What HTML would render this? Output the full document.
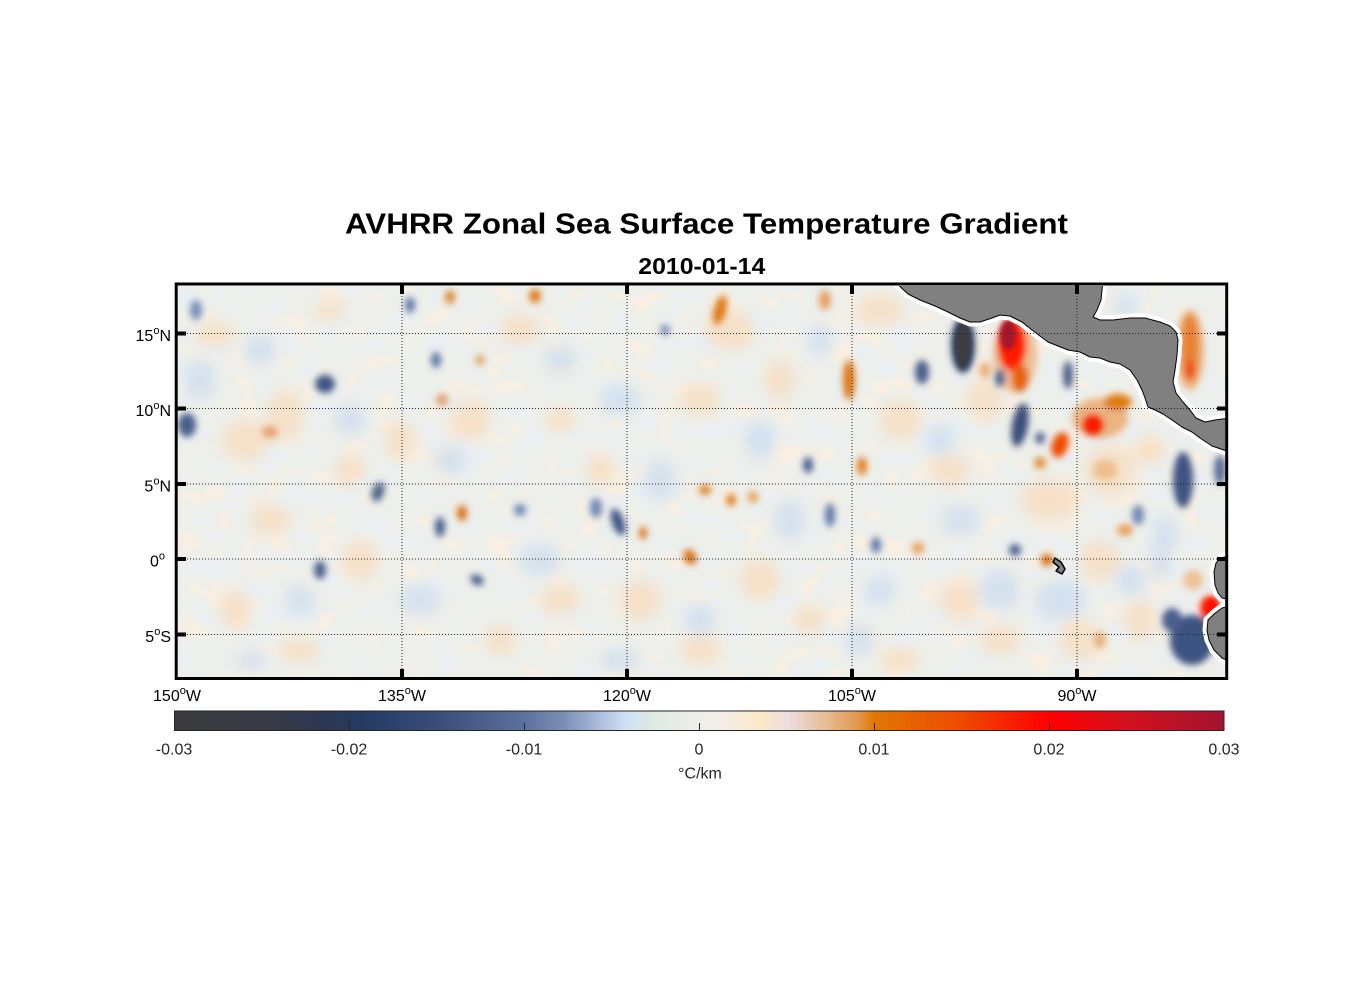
<!DOCTYPE html>
<html>
<head>
<meta charset="utf-8">
<style>
  html, body { margin:0; padding:0; background:#ffffff; }
  body { width:1356px; height:1000px; overflow:hidden; }
  svg { display:block; }
  text { font-family: "Liberation Sans", Arial, Helvetica, sans-serif; }
</style>
</head>
<body>
<svg width="1356" height="1000" viewBox="0 0 1356 1000" xmlns="http://www.w3.org/2000/svg">
  <defs>
    <clipPath id="mapclip"><rect x="177" y="286" width="1049" height="392"/></clipPath>
    <filter id="b6" filterUnits="userSpaceOnUse" x="0" y="0" width="1356" height="1000">
      <feGaussianBlur stdDeviation="7"/>
    </filter>
    <filter id="b3" filterUnits="userSpaceOnUse" x="0" y="0" width="1356" height="1000">
      <feGaussianBlur stdDeviation="3.5"/>
    </filter>
    <filter id="b2" filterUnits="userSpaceOnUse" x="0" y="0" width="1356" height="1000">
      <feGaussianBlur stdDeviation="2.5"/>
    </filter>
    <filter id="tpeach" filterUnits="userSpaceOnUse" x="170" y="280" width="1070" height="410">
      <feTurbulence type="fractalNoise" baseFrequency="0.035 0.045" numOctaves="2" seed="7" result="n"/>
      <feColorMatrix in="n" type="matrix" values="0 0 0 0 0.98  0 0 0 0 0.86  0 0 0 0 0.74  5 0 0 0 -2.75"/>
    </filter>
    <filter id="tblue" filterUnits="userSpaceOnUse" x="170" y="280" width="1070" height="410">
      <feTurbulence type="fractalNoise" baseFrequency="0.035 0.045" numOctaves="2" seed="7" result="n"/>
      <feColorMatrix in="n" type="matrix" values="0 0 0 0 0.80  0 0 0 0 0.86  0 0 0 0 0.94  -5 0 0 0 2.25"/>
    </filter>
    <linearGradient id="cbar" x1="0" y1="0" x2="1" y2="0">
      <stop offset="0" stop-color="#3b3b3d"/>
      <stop offset="0.08" stop-color="#373a44"/>
      <stop offset="0.14" stop-color="#2c3852"/>
      <stop offset="0.18" stop-color="#233a62"/>
      <stop offset="0.25" stop-color="#3a4d78"/>
      <stop offset="0.33" stop-color="#5a6f9a"/>
      <stop offset="0.37" stop-color="#7a8db4"/>
      <stop offset="0.40" stop-color="#a4b6d6"/>
      <stop offset="0.43" stop-color="#cfe0f6"/>
      <stop offset="0.46" stop-color="#dfebe4"/>
      <stop offset="0.50" stop-color="#eeeeec"/>
      <stop offset="0.53" stop-color="#f5ece0"/>
      <stop offset="0.56" stop-color="#fde8c8"/>
      <stop offset="0.585" stop-color="#eedde0"/>
      <stop offset="0.62" stop-color="#e6bd98"/>
      <stop offset="0.65" stop-color="#e29a50"/>
      <stop offset="0.667" stop-color="#e07800"/>
      <stop offset="0.75" stop-color="#ee4a00"/>
      <stop offset="0.833" stop-color="#ff0000"/>
      <stop offset="0.9" stop-color="#d80e1c"/>
      <stop offset="1" stop-color="#a01530"/>
    </linearGradient>
  </defs>

  <!-- Titles -->
  <text x="345" y="233.5" font-size="29" font-weight="bold" fill="#000" textLength="723" lengthAdjust="spacingAndGlyphs">AVHRR Zonal Sea Surface Temperature Gradient</text>
  <text x="638.3" y="274" font-size="23.5" font-weight="bold" fill="#000" textLength="127" lengthAdjust="spacingAndGlyphs">2010-01-14</text>

  <!-- Map -->
  <g clip-path="url(#mapclip)">
    <rect x="170" y="280" width="1070" height="410" fill="#edefeb"/>
    <rect x="170" y="280" width="1070" height="410" filter="url(#tpeach)" opacity="0.7"/>
    <rect x="170" y="280" width="1070" height="410" filter="url(#tblue)" opacity="0.6"/>

    <!-- faint mottling -->
    <g filter="url(#b6)" opacity="0.75">
      <g fill="#f9dcbc">
        <ellipse cx="245" cy="440" rx="25" ry="20"/>
        <ellipse cx="285" cy="415" rx="18" ry="25"/>
        <ellipse cx="215" cy="335" rx="20" ry="12"/>
        <ellipse cx="330" cy="310" rx="15" ry="10"/>
        <ellipse cx="270" cy="520" rx="20" ry="15"/>
        <ellipse cx="360" cy="560" rx="18" ry="20"/>
        <ellipse cx="235" cy="610" rx="15" ry="20"/>
        <ellipse cx="300" cy="650" rx="20" ry="12"/>
        <ellipse cx="400" cy="440" rx="15" ry="20"/>
        <ellipse cx="470" cy="420" rx="20" ry="20"/>
        <ellipse cx="520" cy="330" rx="20" ry="15"/>
        <ellipse cx="560" cy="420" rx="15" ry="12"/>
        <ellipse cx="560" cy="600" rx="20" ry="15"/>
        <ellipse cx="500" cy="640" rx="15" ry="15"/>
        <ellipse cx="640" cy="600" rx="20" ry="20"/>
        <ellipse cx="700" cy="400" rx="20" ry="15"/>
        <ellipse cx="730" cy="330" rx="25" ry="20"/>
        <ellipse cx="780" cy="380" rx="15" ry="20"/>
        <ellipse cx="760" cy="580" rx="20" ry="20"/>
        <ellipse cx="700" cy="650" rx="20" ry="15"/>
        <ellipse cx="810" cy="620" rx="15" ry="15"/>
        <ellipse cx="880" cy="310" rx="25" ry="15"/>
        <ellipse cx="900" cy="420" rx="20" ry="20"/>
        <ellipse cx="950" cy="470" rx="20" ry="15"/>
        <ellipse cx="960" cy="600" rx="20" ry="20"/>
        <ellipse cx="1050" cy="500" rx="30" ry="20"/>
        <ellipse cx="1100" cy="560" rx="20" ry="20"/>
        <ellipse cx="1080" cy="640" rx="20" ry="20"/>
        <ellipse cx="1140" cy="620" rx="15" ry="20"/>
        <ellipse cx="1150" cy="450" rx="15" ry="15"/>
        <ellipse cx="1000" cy="640" rx="20" ry="15"/>
        <ellipse cx="900" cy="660" rx="20" ry="12"/>
        <ellipse cx="600" cy="470" rx="15" ry="15"/>
        <ellipse cx="350" cy="470" rx="15" ry="15"/>
        <ellipse cx="985" cy="400" rx="18" ry="20"/>
        <ellipse cx="1110" cy="470" rx="25" ry="25"/>
      </g>
      <g fill="#cbdcf0">
        <ellipse cx="200" cy="380" rx="15" ry="20"/>
        <ellipse cx="260" cy="350" rx="15" ry="15"/>
        <ellipse cx="350" cy="420" rx="15" ry="15"/>
        <ellipse cx="300" cy="600" rx="15" ry="15"/>
        <ellipse cx="420" cy="600" rx="20" ry="15"/>
        <ellipse cx="450" cy="460" rx="15" ry="15"/>
        <ellipse cx="540" cy="560" rx="20" ry="15"/>
        <ellipse cx="560" cy="360" rx="15" ry="15"/>
        <ellipse cx="620" cy="400" rx="20" ry="15"/>
        <ellipse cx="660" cy="480" rx="15" ry="20"/>
        <ellipse cx="700" cy="620" rx="15" ry="15"/>
        <ellipse cx="760" cy="440" rx="15" ry="20"/>
        <ellipse cx="790" cy="520" rx="15" ry="20"/>
        <ellipse cx="820" cy="340" rx="12" ry="15"/>
        <ellipse cx="880" cy="590" rx="15" ry="15"/>
        <ellipse cx="940" cy="440" rx="15" ry="15"/>
        <ellipse cx="960" cy="520" rx="20" ry="15"/>
        <ellipse cx="1000" cy="590" rx="20" ry="20"/>
        <ellipse cx="1060" cy="600" rx="25" ry="20"/>
        <ellipse cx="1130" cy="580" rx="15" ry="15"/>
        <ellipse cx="1160" cy="560" rx="10" ry="20"/>
        <ellipse cx="250" cy="660" rx="15" ry="10"/>
        <ellipse cx="620" cy="660" rx="20" ry="10"/>
        <ellipse cx="860" cy="640" rx="15" ry="15"/>
        <ellipse cx="1125" cy="305" rx="12" ry="10"/>
        <ellipse cx="1165" cy="535" rx="12" ry="20"/>
      </g>
    </g>

    <!-- medium blobs -->
    <g filter="url(#b3)">
      <ellipse cx="1100" cy="418" rx="28" ry="20" fill="#eaa060" opacity="0.75"/>
      <ellipse cx="1190" cy="350" rx="14" ry="40" fill="#eaa060" opacity="0.8"/>
      <ellipse cx="1015" cy="355" rx="22" ry="38" fill="#eaa060" opacity="0.6"/>
      <ellipse cx="1105" cy="470" rx="12" ry="10" fill="#eab070" opacity="0.7"/>
      <ellipse cx="1193" cy="580" rx="10" ry="10" fill="#eab070" opacity="0.7"/>
      <ellipse cx="1100" cy="640" rx="6" ry="8" fill="#e4a060" opacity="0.8"/>
      <ellipse cx="1040" cy="463" rx="6" ry="6" fill="#e08828" opacity="0.9"/>
      <ellipse cx="985" cy="370" rx="6" ry="8" fill="#e6a060" opacity="0.8"/>

      <ellipse cx="1012" cy="345" rx="14" ry="26" fill="#ff1a00"/>
      <ellipse cx="1020" cy="378" rx="8" ry="14" fill="#e86010"/>
      <ellipse cx="1093" cy="425" rx="11" ry="11" fill="#f03000"/>
      <ellipse cx="1060" cy="445" rx="8" ry="13" fill="#ee4a00" transform="rotate(20 1060 445)"/>
      <ellipse cx="1118" cy="402" rx="14" ry="8" fill="#e07a10"/>
      <ellipse cx="1190" cy="345" rx="8" ry="30" fill="#e88030"/>
      <ellipse cx="1190" cy="370" rx="6" ry="10" fill="#ee5010"/>
      <ellipse cx="1210" cy="608" rx="10" ry="12" fill="#ff2000"/>
      <ellipse cx="1047" cy="560" rx="6" ry="6" fill="#dd7010"/>
      <ellipse cx="849" cy="380" rx="6" ry="20" fill="#dd7818"/>
      <ellipse cx="862" cy="466" rx="5" ry="9" fill="#e08020"/>
      <ellipse cx="720" cy="310" rx="6" ry="15" fill="#de7818" transform="rotate(15 720 310)"/>
      <ellipse cx="825" cy="300" rx="6" ry="10" fill="#e8a060"/>
      <ellipse cx="535" cy="296" rx="6" ry="7" fill="#e07a20"/>
      <ellipse cx="450" cy="297" rx="5" ry="7" fill="#e08a30"/>
      <ellipse cx="462" cy="513" rx="5" ry="8" fill="#d87018"/>
      <ellipse cx="643" cy="533" rx="4" ry="6" fill="#d87018"/>
      <ellipse cx="690" cy="557" rx="6" ry="8" fill="#d87018" transform="rotate(-30 690 557)"/>
      <ellipse cx="705" cy="490" rx="6" ry="5" fill="#e08020"/>
      <ellipse cx="731" cy="500" rx="5" ry="6" fill="#e08020"/>
      <ellipse cx="753" cy="497" rx="5" ry="6" fill="#e8a050"/>
      <ellipse cx="918" cy="548" rx="6" ry="6" fill="#e8a060"/>
      <ellipse cx="1125" cy="530" rx="8" ry="6" fill="#e8a060"/>
      <ellipse cx="480" cy="360" rx="5" ry="5" fill="#e0a060"/>
      <ellipse cx="442" cy="400" rx="6" ry="6" fill="#e0a070"/>
      <ellipse cx="270" cy="432" rx="8" ry="6" fill="#e6a070"/>

      <ellipse cx="963" cy="345" rx="12" ry="28" fill="#2e4068"/>
      <ellipse cx="1020" cy="425" rx="8" ry="22" fill="#3a4e7a" transform="rotate(10 1020 425)"/>
      <ellipse cx="1040" cy="438" rx="5" ry="6" fill="#50648e"/>
      <ellipse cx="922" cy="372" rx="7" ry="12" fill="#4a5f8c"/>
      <ellipse cx="1000" cy="378" rx="5" ry="9" fill="#50648e"/>
      <ellipse cx="1068" cy="375" rx="5" ry="14" fill="#4a5f8c"/>
      <ellipse cx="1183" cy="480" rx="10" ry="28" fill="#3d5282"/>
      <ellipse cx="1192" cy="640" rx="22" ry="25" fill="#3d5282"/>
      <ellipse cx="1172" cy="620" rx="10" ry="12" fill="#4a5f8c"/>
      <ellipse cx="1220" cy="470" rx="6" ry="15" fill="#5a6e98"/>
      <ellipse cx="1015" cy="550" rx="6" ry="6" fill="#4a5f8c"/>
      <ellipse cx="325" cy="384" rx="10" ry="9" fill="#3f5486"/>
      <ellipse cx="187" cy="425" rx="9" ry="12" fill="#4a5f8c"/>
      <ellipse cx="320" cy="570" rx="6" ry="9" fill="#4a5f8c"/>
      <ellipse cx="378" cy="492" rx="6" ry="10" fill="#50658e" transform="rotate(20 378 492)"/>
      <ellipse cx="440" cy="527" rx="5" ry="10" fill="#4a5f8c"/>
      <ellipse cx="477" cy="580" rx="7" ry="5" fill="#4a5f8c" transform="rotate(30 477 580)"/>
      <ellipse cx="618" cy="522" rx="6" ry="14" fill="#3f5486" transform="rotate(-20 618 522)"/>
      <ellipse cx="596" cy="508" rx="6" ry="10" fill="#7088b4"/>
      <ellipse cx="808" cy="465" rx="5" ry="8" fill="#4a5f8c"/>
      <ellipse cx="830" cy="515" rx="5" ry="12" fill="#6078a8"/>
      <ellipse cx="876" cy="545" rx="5" ry="8" fill="#6078a8"/>
      <ellipse cx="1138" cy="515" rx="6" ry="10" fill="#7088b0"/>
      <ellipse cx="196" cy="310" rx="6" ry="10" fill="#7a90b8"/>
      <ellipse cx="410" cy="305" rx="5" ry="8" fill="#6078a8"/>
      <ellipse cx="436" cy="360" rx="5" ry="8" fill="#6078a8"/>
      <ellipse cx="520" cy="510" rx="6" ry="6" fill="#7088b4"/>
      <ellipse cx="665" cy="330" rx="5" ry="5" fill="#7088b4"/>
    </g>

    <!-- sharp cores -->
    <g filter="url(#b2)">
      <ellipse cx="963" cy="345" rx="8" ry="23" fill="#3c3c40"/>
      <ellipse cx="1008" cy="335" rx="8" ry="15" fill="#a5162e"/>
      <ellipse cx="1093" cy="425" rx="6" ry="6" fill="#ff1500"/>
      <ellipse cx="1212" cy="606" rx="6" ry="7" fill="#ff1000"/>
    </g>

    <!-- Land -->
    <g stroke="#ffffff" stroke-width="9" stroke-linejoin="round" fill="#ffffff">
      <polygon points="898,280 1103,280 1101,300 1097,310 1093,317 1100,320 1113,320 1130,318 1145,318 1160,322 1170,326 1176,332 1178,340 1177,355 1175,370 1173,382 1176,393 1183,402 1190,410 1196,418 1205,422 1215,420 1230,418 1230,452 1218,448 1212,446 1206,442 1200,438 1192,432 1182,427 1172,420 1163,414 1155,410 1148,407 1145,398 1142,390 1137,380 1130,370 1120,364 1110,362 1100,358 1090,357 1080,352 1068,350 1058,346 1048,342 1040,336 1032,330 1022,322 1010,316 1000,315 992,318 980,322 970,322 960,318 948,312 935,306 920,300 908,294 893,280"/>
      <polygon points="1230,556 1220,558 1216,563 1214,572 1215,585 1218,593 1222,598 1230,600"/>
      <polygon points="1230,606 1222,608 1214,614 1208,620 1207,630 1209,640 1214,650 1222,658 1230,662"/>
    </g>
    <g stroke="#000000" stroke-width="1" stroke-linejoin="round" fill="#808080">
      <polygon points="898,280 1103,280 1101,300 1097,310 1093,317 1100,320 1113,320 1130,318 1145,318 1160,322 1170,326 1176,332 1178,340 1177,355 1175,370 1173,382 1176,393 1183,402 1190,410 1196,418 1205,422 1215,420 1230,418 1230,452 1218,448 1212,446 1206,442 1200,438 1192,432 1182,427 1172,420 1163,414 1155,410 1148,407 1145,398 1142,390 1137,380 1130,370 1120,364 1110,362 1100,358 1090,357 1080,352 1068,350 1058,346 1048,342 1040,336 1032,330 1022,322 1010,316 1000,315 992,318 980,322 970,322 960,318 948,312 935,306 920,300 908,294 893,280"/>
      <polygon points="1230,556 1220,558 1216,563 1214,572 1215,585 1218,593 1222,598 1230,600"/>
      <polygon points="1230,606 1222,608 1214,614 1208,620 1207,630 1209,640 1214,650 1222,658 1230,662"/>
      <polygon points="1055,558 1061,562 1065,569 1062,574 1056,571 1059,567 1053,562" stroke-width="1.5"/>
    </g>
  </g>

  <!-- Gridlines -->
  <g stroke="#222222" stroke-width="1" stroke-dasharray="1,2" fill="none">
    <line x1="178" y1="333.5" x2="1225" y2="333.5"/>
    <line x1="178" y1="408.5" x2="1225" y2="408.5"/>
    <line x1="178" y1="484" x2="1225" y2="484"/>
    <line x1="178" y1="559" x2="1225" y2="559"/>
    <line x1="178" y1="634.5" x2="1225" y2="634.5"/>
    <line x1="402" y1="287" x2="402" y2="677"/>
    <line x1="627" y1="287" x2="627" y2="677"/>
    <line x1="852" y1="287" x2="852" y2="677"/>
    <line x1="1077" y1="287" x2="1077" y2="677"/>
  </g>

  <!-- Frame -->
  <rect x="176.2" y="284" width="1050.5" height="394.5" fill="none" stroke="#000" stroke-width="3"/>

  <!-- Ticks -->
  <g stroke="#000" stroke-width="4">
    <line x1="176" y1="333.5" x2="186" y2="333.5"/>
    <line x1="176" y1="408.5" x2="186" y2="408.5"/>
    <line x1="176" y1="484" x2="186" y2="484"/>
    <line x1="176" y1="559" x2="186" y2="559"/>
    <line x1="176" y1="634.5" x2="186" y2="634.5"/>
    <line x1="1227" y1="333.5" x2="1217" y2="333.5"/>
    <line x1="1227" y1="408.5" x2="1217" y2="408.5"/>
    <line x1="1227" y1="484" x2="1217" y2="484"/>
    <line x1="1227" y1="559" x2="1217" y2="559"/>
    <line x1="1227" y1="634.5" x2="1217" y2="634.5"/>
    <line x1="402" y1="284" x2="402" y2="294"/>
    <line x1="627" y1="284" x2="627" y2="294"/>
    <line x1="852" y1="284" x2="852" y2="294"/>
    <line x1="1077" y1="284" x2="1077" y2="294"/>
    <line x1="402" y1="679" x2="402" y2="669"/>
    <line x1="627" y1="679" x2="627" y2="669"/>
    <line x1="852" y1="679" x2="852" y2="669"/>
    <line x1="1077" y1="679" x2="1077" y2="669"/>
  </g>

  <!-- Lat labels -->
  <g font-size="16" fill="#000" text-anchor="end">
    <text x="171" y="341">15<tspan dy="-7" font-size="11">o</tspan><tspan dy="7">N</tspan></text>
    <text x="171" y="416">10<tspan dy="-7" font-size="11">o</tspan><tspan dy="7">N</tspan></text>
    <text x="171" y="491.5">5<tspan dy="-7" font-size="11">o</tspan><tspan dy="7">N</tspan></text>
    <text x="165" y="566.5">0<tspan dy="-7" font-size="11">o</tspan></text>
    <text x="171" y="642">5<tspan dy="-7" font-size="11">o</tspan><tspan dy="7">S</tspan></text>
  </g>

  <!-- Lon labels -->
  <g font-size="16" fill="#000" text-anchor="middle">
    <text x="177" y="701">150<tspan dy="-7" font-size="11">o</tspan><tspan dy="7">W</tspan></text>
    <text x="402" y="701">135<tspan dy="-7" font-size="11">o</tspan><tspan dy="7">W</tspan></text>
    <text x="627" y="701">120<tspan dy="-7" font-size="11">o</tspan><tspan dy="7">W</tspan></text>
    <text x="852" y="701">105<tspan dy="-7" font-size="11">o</tspan><tspan dy="7">W</tspan></text>
    <text x="1077" y="701">90<tspan dy="-7" font-size="11">o</tspan><tspan dy="7">W</tspan></text>
  </g>

  <!-- Colorbar -->
  <rect x="174.5" y="711" width="1049.5" height="19.5" fill="url(#cbar)" stroke="#262626" stroke-width="1"/>
  <g stroke="#262626" stroke-width="1">
    <line x1="349.5" y1="730" x2="349.5" y2="723"/>
    <line x1="524.5" y1="730" x2="524.5" y2="723"/>
    <line x1="699.5" y1="730" x2="699.5" y2="723"/>
    <line x1="874.5" y1="730" x2="874.5" y2="723"/>
    <line x1="1049.5" y1="730" x2="1049.5" y2="723"/>
  </g>
  <g font-size="16" fill="#262626" text-anchor="middle">
    <text x="174" y="754.5">-0.03</text>
    <text x="349" y="754.5">-0.02</text>
    <text x="524" y="754.5">-0.01</text>
    <text x="699" y="754.5">0</text>
    <text x="874" y="754.5">0.01</text>
    <text x="1049" y="754.5">0.02</text>
    <text x="1224" y="754.5">0.03</text>
    <text x="700" y="778.5">°C/km</text>
  </g>
</svg>
</body>
</html>
